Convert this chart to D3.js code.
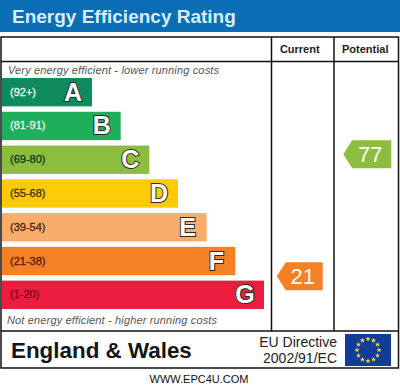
<!DOCTYPE html>
<html>
<head>
<meta charset="utf-8">
<script src="https://cdn.jsdelivr.net/npm/d3@7"></script>
<style>
  html, body { margin: 0; padding: 0; background: #fff; }
  svg { display: block; font-family: "Liberation Sans", Arial, sans-serif; }
</style>
</head>
<body>
<div id="chart"></div>
<script>
const letters = ['A', 'B', 'C', 'D', 'E', 'F', 'G'];
const ranges = ['(92+)', '(81-91)', '(69-80)', '(55-68)', '(39-54)', '(21-38)', '(1-20)'];
const barColors = ['#0f8a5c', '#1fae5a', '#8cbd3f', '#fdcb05', '#f9ad6c', '#f58026', '#ec1c3f'];
const rangeColors = ['#e6f5ec', '#dff5e6', '#143d10', '#4a3a00', '#4a2a10', '#5a1c00', '#7a0a1c'];
const columns = ['Current', 'Potential'];
const scores = [21, 77];
const scoreColors = ['#f58026', '#8cbd3f'];

const width = 400, height = 388;
const svg = d3.select('#chart').append('svg').attr('width', width).attr('height', height);

// Header
svg.append('rect').attr('x', 0).attr('y', 0).attr('width', width).attr('height', 32).attr('fill', '#0a6db5');
svg.append('text').attr('x', 12).attr('y', 23)
  .attr('font-size', 19).attr('font-weight', 'bold').attr('fill', '#d5eff8')
  .text('Energy Efficiency Rating');

// Scales
const y = d3.scaleBand().domain(letters).range([76, 311]).paddingInner(0.16).paddingOuter(0.06);
const barLen = d3.scaleLinear().domain([0, 6]).range([90, 262]);
const scoreY = d3.scaleLinear().domain([0, 100]).range([322, 104]);
const colX = d3.scaleOrdinal().domain(columns).range([271.5, 334]);
const colW = d3.scaleOrdinal().domain(columns).range([62.5, 64.5]);

// Bars
const bars = svg.selectAll('g.band').data(letters).enter().append('g').attr('class', 'band');
bars.append('rect')
  .attr('x', 2)
  .attr('y', d => y(d))
  .attr('width', (d, i) => barLen(i))
  .attr('height', y.bandwidth())
  .attr('fill', (d, i) => barColors[i]);
bars.append('text')
  .attr('x', 10)
  .attr('y', d => y(d) + y.bandwidth() / 2 + 3.5)
  .attr('font-size', 11)
  .attr('fill', (d, i) => rangeColors[i])
  .attr('stroke', (d, i) => rangeColors[i]).attr('stroke-width', 0.35)
  .text((d, i) => ranges[i]);
bars.append('text')
  .attr('x', (d, i) => barLen(i) - 17)
  .attr('y', d => y(d) + y.bandwidth() / 2 + 8.5)
  .attr('text-anchor', 'middle')
  .attr('font-size', 25).attr('font-weight', 'bold')
  .attr('fill', '#fff').attr('stroke', '#2a2a2a').attr('stroke-width', 2)
  .style('paint-order', 'stroke')
  .text(d => d);

// Captions
svg.append('text').attr('x', 8).attr('y', 74)
  .attr('font-size', 11).attr('font-style', 'italic').attr('fill', '#555')
  .attr('textLength', 211)
  .text('Very energy efficient - lower running costs');
svg.append('text').attr('x', 7).attr('y', 324)
  .attr('font-size', 11).attr('font-style', 'italic').attr('fill', '#555')
  .attr('textLength', 210)
  .text('Not energy efficient - higher running costs');

// Score arrows
const arrowH = 28, tip = 9;
const arrowShift = [-3, 1], arrowHalf = [23, 24];
const arrows = svg.selectAll('g.score').data(columns).enter().append('g').attr('class', 'score')
  .attr('transform', (d, i) => `translate(${colX(d) + colW(d) / 2 + arrowShift[i]},${scoreY(scores[i])})`);
arrows.append('path')
  .attr('d', (d, i) => {
    const h = arrowHalf[i];
    return d3.line()([[-h, 0], [-h + tip, -arrowH / 2], [h, -arrowH / 2], [h, arrowH / 2], [-h + tip, arrowH / 2]]) + 'Z';
  })
  .attr('fill', (d, i) => scoreColors[i]);
arrows.append('text')
  .attr('x', 3).attr('y', 8)
  .attr('text-anchor', 'middle')
  .attr('font-size', 22).attr('fill', '#fff')
  .text((d, i) => scores[i]);

// Frame and grid lines
const lineColor = '#111';
svg.append('rect').attr('x', 1).attr('y', 37).attr('width', 397.5).attr('height', 331)
  .attr('fill', 'none').attr('stroke', lineColor).attr('stroke-width', 1.5);
[61.5, 331].forEach(v => svg.append('line').attr('x1', 1).attr('x2', 398.5).attr('y1', v).attr('y2', v)
  .attr('stroke', lineColor).attr('stroke-width', 1.5));
svg.selectAll('line.col').data(columns).enter().append('line').attr('class', 'col')
  .attr('x1', d => colX(d)).attr('x2', d => colX(d)).attr('y1', 37).attr('y2', 331)
  .attr('stroke', lineColor).attr('stroke-width', 1.5);
const headShift = [-3, -1];
svg.selectAll('text.col').data(columns).enter().append('text').attr('class', 'col')
  .attr('x', (d, i) => colX(d) + colW(d) / 2 + headShift[i])
  .attr('y', 53)
  .attr('text-anchor', 'middle')
  .attr('font-size', 11).attr('font-weight', 'bold').attr('fill', '#222')
  .text(d => d);

// Footer
svg.append('text').attr('x', 11).attr('y', 358)
  .attr('font-size', 22.4).attr('font-weight', 'bold').attr('fill', '#151515')
  .text('England & Wales');
svg.append('text').attr('x', 337).attr('y', 347)
  .attr('text-anchor', 'end').attr('font-size', 14).attr('fill', '#222')
  .text('EU Directive');
svg.append('text').attr('x', 337).attr('y', 363)
  .attr('text-anchor', 'end').attr('font-size', 14).attr('fill', '#222')
  .text('2002/91/EC');
svg.append('text').attr('x', 199).attr('y', 383)
  .attr('text-anchor', 'middle').attr('font-size', 11).attr('fill', '#111')
  .text('WWW.EPC4U.COM');

// EU flag
const flag = svg.append('g').attr('transform', 'translate(368,350)');
flag.append('rect').attr('x', -23).attr('y', -16).attr('width', 46).attr('height', 32).attr('fill', '#123c96');
const star = d3.symbol().type(d3.symbolStar).size(9);
flag.selectAll('path').data(d3.range(12)).enter().append('path')
  .attr('d', star)
  .attr('fill', '#f6e04a')
  .attr('transform', d => {
    const a = d / 12 * 2 * Math.PI;
    return `translate(${11 * Math.sin(a)},${-11 * Math.cos(a)})`;
  });
</script>
</body>
</html>
